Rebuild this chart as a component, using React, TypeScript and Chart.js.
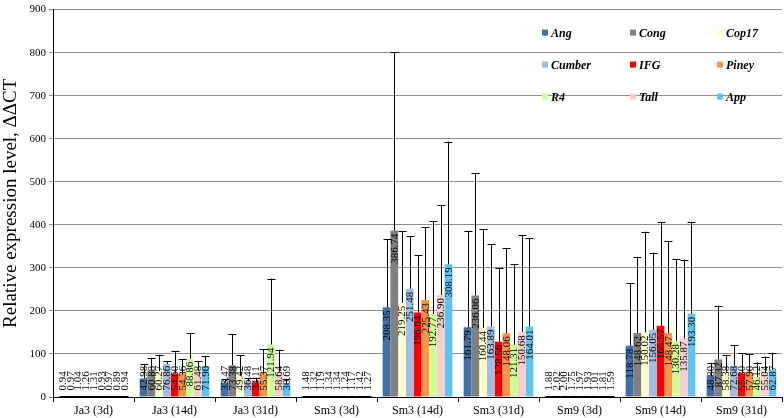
import { useEffect, useRef } from "react"
import { Chart, registerables, type ChartConfiguration, type Plugin } from "chart.js"

Chart.register(...registerables)

const FONT = "'Liberation Serif', 'Times New Roman', serif"

const categories = ["Ja3 (3d)", "Ja3 (14d)", "Ja3 (31d)", "Sm3 (3d)", "Sm3 (14d)", "Sm3 (31d)", "Sm9 (3d)", "Sm9 (14d)", "Sm9 (31d)"]
const seriesNames = ["Ang", "Cong", "Cop17", "Cumber", "IFG", "Piney", "R4", "Tall", "App"]
const seriesColors = ["#416FA6", "#808080", "#FFFFCC", "#9DBFE7", "#FF0000", "#F79646", "#CCFF99", "#FFCCCC", "#5BC4F5"]
const yTicks = [0, 100, 200, 300, 400, 500, 600, 700, 800, 900]

// mean values, one array per line
const ang = [0.94, 42.98, 33.47, 1.48, 208.35, 161.79, 1.88, 118.78, 48.8]
const cong = [0.97, 60.88, 73.38, 1.32, 386.74, 236.06, 2.02, 148.62, 87.32]
const cop17 = [1.04, 60.27, 49.42, 1.19, 219.25, 160.44, 2.0, 150.02, 58.38]
const cumber = [1.26, 76.86, 36.48, 1.34, 251.48, 163.89, 1.75, 156.05, 72.68]
const ifg = [1.31, 54.6, 34.11, 1.34, 196.04, 128.56, 1.97, 165.57, 55.3]
const piney = [0.93, 54.36, 55.37, 1.24, 225.43, 148.06, 1.93, 148.47, 57.9]
const r4 = [0.97, 88.86, 121.94, 1.17, 192.77, 121.31, 1.01, 130.28, 46.12]
const tall = [0.89, 61.48, 58.64, 1.42, 236.9, 150.68, 1.81, 135.87, 55.04]
const app = [0.94, 71.9, 30.69, 1.27, 308.19, 164.01, 1.59, 193.3, 62.87]

// upper error (SD) per line
const angErr = [0.3, 33, 8.5, 0.3, 158, 223, 0.4, 146, 31]
const congErr = [0.3, 30, 72, 0.3, 414, 285, 0.5, 177, 125]
const cop17Err = [0.3, 38, 47, 0.3, 166, 229, 0.4, 234, 40]
const cumberErr = [0.3, 7, 8, 0.3, 122, 192, 0.4, 179, 48]
const ifgErr = [0.3, 52, 11, 0.3, 133, 170, 0.4, 241, 46]
const pineyErr = [0.3, 33, 55, 0.3, 169, 198, 0.4, 213, 41]
const r4Err = [0.3, 59, 153, 0.3, 215, 188, 0.3, 191, 34]
const tallErr = [0.3, 21, 51, 0.3, 210, 226, 0.4, 183, 39]
const appErr = [0.3, 24, 12, 0.3, 285, 205, 0.3, 214, 40]

const seriesValues = [ang, cong, cop17, cumber, ifg, piney, r4, tall, app]
const seriesErrors = [angErr, congErr, cop17Err, cumberErr, ifgErr, pineyErr, r4Err, tallErr, appErr]

// error bars + rotated value labels
const barExtras: Plugin<"bar"> = {
  id: "barExtras",
  afterDatasetsDraw(chart) {
    const { ctx } = chart
    const y = chart.scales.y
    ctx.save()
    ctx.strokeStyle = "#000"
    ctx.lineWidth = 1
    chart.data.datasets.forEach((_, i) => {
      const meta = chart.getDatasetMeta(i)
      meta.data.forEach((bar: any, j) => {
        const v = seriesValues[i][j]
        const top = y.getPixelForValue(v + seriesErrors[i][j])
        const x = Math.round(bar.x) + 0.5
        ctx.beginPath()
        ctx.moveTo(x, bar.y)
        ctx.lineTo(x, top)
        ctx.moveTo(x - 4, Math.round(top) + 0.5)
        ctx.lineTo(x + 4, Math.round(top) + 0.5)
        ctx.stroke()
      })
    })

    ctx.font = `11px ${FONT}`
    ctx.fillStyle = "#000"
    ctx.textBaseline = "middle"
    ctx.textAlign = "left"
    chart.data.datasets.forEach((_, i) => {
      const meta = chart.getDatasetMeta(i)
      meta.data.forEach((bar: any, j) => {
        const text = seriesValues[i][j].toFixed(2)
        const len = ctx.measureText(text).width
        const bottom = Math.min(bar.y + 3 + len, bar.base - 6)
        ctx.save()
        ctx.translate(bar.x, bottom)
        ctx.rotate(-Math.PI / 2)
        ctx.fillText(text, 0, 0.5)
        ctx.restore()
      })
    })
    ctx.restore()
  },
}

// 3x3 legend inside the plot, top right
const gridLegend: Plugin<"bar"> = {
  id: "gridLegend",
  afterDraw(chart) {
    const { ctx, chartArea } = chart
    const cols = [chartArea.right - 240, chartArea.right - 152, chartArea.right - 65]
    const rows = [chartArea.top + 23, chartArea.top + 55, chartArea.top + 87]
    ctx.save()
    ctx.font = `italic bold 12px ${FONT}`
    ctx.textBaseline = "middle"
    ctx.textAlign = "left"
    seriesNames.forEach((name, k) => {
      const bx = cols[k % 3]
      const by = rows[Math.floor(k / 3)]
      ctx.fillStyle = seriesColors[k]
      ctx.fillRect(bx, by - 3, 6, 6)
      ctx.fillStyle = "#000"
      ctx.fillText(name, bx + 9, by + 1)
    })
    ctx.restore()
  },
}

function ExpressionChart() {
  const chartRef = useRef<HTMLCanvasElement>(null)
  const chartInstance = useRef<Chart | null>(null)

  useEffect(() => {
    if (!chartRef.current) return
    const ctx = chartRef.current.getContext("2d")
    if (!ctx) return

    if (chartInstance.current) {
      chartInstance.current.destroy()
    }

    const config: ChartConfiguration<"bar"> = {
      type: "bar",
      data: {
        labels: categories,
        datasets: seriesNames.map((name, i) => ({
          label: name,
          data: seriesValues[i],
          backgroundColor: seriesColors[i],
          borderWidth: 0,
          barPercentage: 1,
          categoryPercentage: 0.86,
        })),
      },
      options: {
        responsive: true,
        maintainAspectRatio: false,
        animation: false,
        layout: { padding: { top: 8, right: 2, left: 0, bottom: 0 } },
        scales: {
          x: {
            grid: {
              display: true,
              offset: true,
              drawOnChartArea: false,
              drawTicks: true,
              tickLength: 5,
              color: "#000",
            },
            border: { display: true, color: "#000" },
            ticks: { color: "#000", padding: 2, font: { family: FONT, size: 12 } },
            afterFit(scale) {
              scale.height = 21
            },
          },
          y: {
            min: 0,
            max: 900,
            afterBuildTicks(scale) {
              scale.ticks = yTicks.map((v) => ({ value: v }))
            },
            grid: {
              color: "#8C8C8C",
              tickLength: 4,
              tickColor: "#8C8C8C",
            },
            border: { display: true, color: "#000" },
            ticks: { color: "#000", padding: 3, font: { family: FONT, size: 11 } },
            title: {
              display: true,
              text: "Relative expression level, ΔΔCT",
              color: "#000",
              font: { family: FONT, size: 19 },
              padding: { top: 0, bottom: 0 },
            },
            afterFit(scale) {
              scale.width = 53
            },
          },
        },
        plugins: {
          legend: { display: false },
          tooltip: { enabled: false },
        },
      },
      plugins: [barExtras, gridLegend],
    }

    chartInstance.current = new Chart(ctx, config)

    return () => {
      if (chartInstance.current) {
        chartInstance.current.destroy()
        chartInstance.current = null
      }
    }
  }, [])

  return (
    <div style={{ position: "relative", width: 784, height: 418 }}>
      <canvas ref={chartRef} />
    </div>
  )
}

export default function App() {
  useEffect(() => {
    document.body.style.margin = "0"
  }, [])
  return <ExpressionChart />
}
